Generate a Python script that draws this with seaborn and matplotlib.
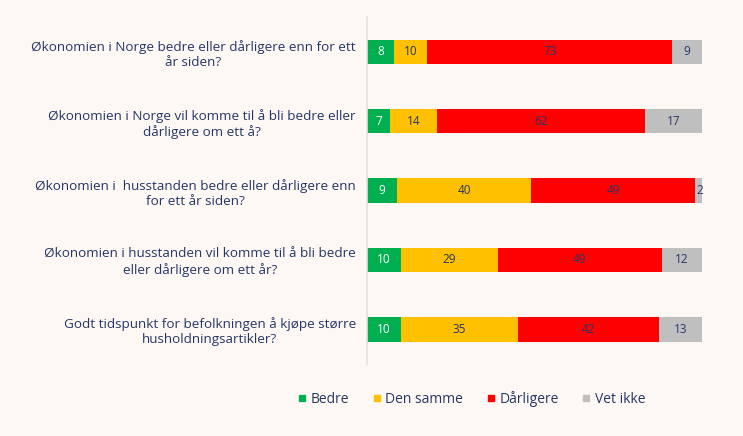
import numpy as np
import pandas as pd
import matplotlib.pyplot as plt
from matplotlib.lines import Line2D
import seaborn as sns

# Spørsmål og svarfordeling (prosent)
questions = [
    "Økonomien i Norge bedre eller dårligere enn for ett\når siden?",
    "Økonomien i Norge vil komme til å bli bedre eller\ndårligere om ett å?",
    "Økonomien i  husstanden bedre eller dårligere enn\nfor ett år siden?",
    "Økonomien i husstanden vil komme til å bli bedre\neller dårligere om ett år?",
    "Godt tidspunkt for befolkningen å kjøpe større\nhusholdningsartikler?",
]
bedre = [8, 7, 9, 10, 10]
den_samme = [10, 14, 40, 29, 35]
darligere = [73, 62, 49, 49, 42]
vet_ikke = [9, 17, 2, 12, 13]

series = ["Bedre", "Den samme", "Dårligere", "Vet ikke"]
colors = ["#00B050", "#FFC000", "#FF0000", "#BFBFBF"]
text_color = "#263668"
bg = "#FDF8F4"

sns.set_theme(style="white")
plt.rcParams["font.family"] = ["Open Sans", "DejaVu Sans"]

df = pd.DataFrame({"q": questions, "Bedre": bedre, "Den samme": den_samme,
                   "Dårligere": darligere, "Vet ikke": vet_ikke})
cum = df[series].cumsum(axis=1)

fig = plt.figure(figsize=(7.43, 4.36), dpi=100, facecolor=bg)
ax = fig.add_axes([0.494, 0.165, 0.451, 0.796], facecolor=bg)

# Stablede stolper: tegn kumulative summer fra størst til minst
for s, c in reversed(list(zip(series, colors))):
    sns.barplot(x=cum[s], y=df["q"], orient="h", color=c, width=0.35,
                saturation=1, linewidth=0, ax=ax)

# Verdietiketter midt i hvert segment
for i in range(len(df)):
    for j, s in enumerate(series):
        v = df.loc[i, s]
        mid = cum.loc[i, s] - v / 2
        if v <= 3:
            mid = cum.loc[i, s] - v / 2 + 0.3
        ax.text(mid, i, str(v), ha="center", va="center", fontsize=8.5,
                color="white" if s == "Bedre" else text_color)

ax.set_xlim(0, 100)
ax.set_xlabel("")
ax.set_ylabel("")
ax.set_xticks([])
for sp in ["top", "right", "bottom"]:
    ax.spines[sp].set_visible(False)
ax.spines["left"].set_color("#E6E2DE")
ax.spines["left"].set_linewidth(1.2)
ax.tick_params(axis="y", length=0, pad=8)
for lbl in ax.get_yticklabels():
    lbl.set_fontsize(9.7)
    lbl.set_color(text_color)
    lbl.set_multialignment("center")

handles = [Line2D([0], [0], marker="s", linestyle="", markersize=5,
                  markerfacecolor=c, markeredgecolor=c) for c in colors]
fig.legend(handles, series, loc="center", bbox_to_anchor=(0.634, 0.085),
           ncol=4, frameon=False, fontsize=10, handlelength=0.8,
           handletextpad=0.2, columnspacing=1.6, labelcolor=text_color)

plt.savefig("out.png", dpi=100, facecolor=bg)
